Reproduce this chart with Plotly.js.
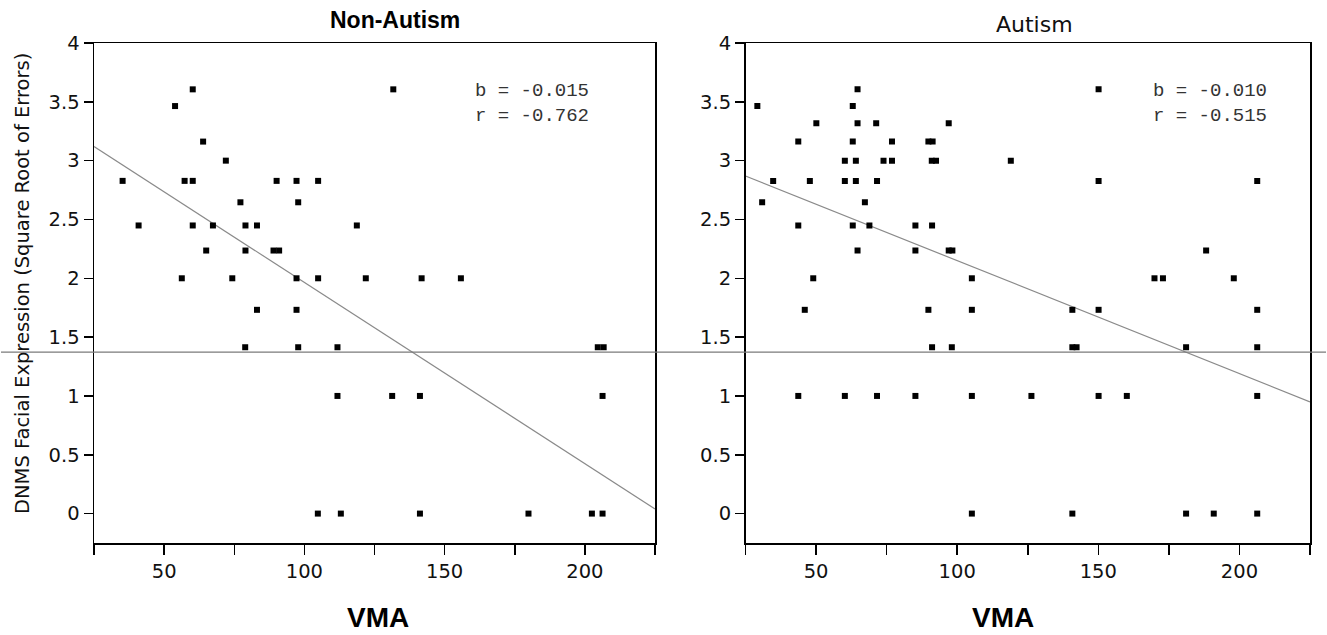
<!DOCTYPE html>
<html>
<head>
<meta charset="utf-8">
<script src="https://cdn.plot.ly/plotly-3.0.1.min.js"></script>
<style>html,body{margin:0;padding:0;background:#fff;}#chart{width:1327px;height:635px;}</style>
</head>
<body>
<div id="chart"></div>
<script>
// ---- Data ----
const nonAutismVMA = [60.2, 131.7, 53.9, 63.9, 72,
  35.2, 57.3, 60.2, 90.1, 97.2, 104.9,
  77.2, 97.8,
  40.9, 60.2, 67.4, 79, 83.1, 118.7,
  65, 79, 89, 91,
  56.3, 74.3, 97.2, 104.9, 121.9, 141.8, 155.8,
  83.1, 97.2,
  78.9, 97.8, 111.8, 204.6, 206.7,
  111.8, 131.3, 141.2, 206.3,
  104.8, 113, 141.2, 179.9, 202.5, 206.3];
const nonAutismDNMS = [3.606, 3.606, 3.464, 3.162, 3.0,
  2.828, 2.828, 2.828, 2.828, 2.828, 2.828,
  2.646, 2.646,
  2.449, 2.449, 2.449, 2.449, 2.449, 2.449,
  2.236, 2.236, 2.236, 2.236,
  2, 2, 2, 2, 2, 2, 2,
  1.732, 1.732,
  1.414, 1.414, 1.414, 1.414, 1.414,
  1, 1, 1, 1,
  0, 0, 0, 0, 0, 0];

const autismVMA = [64.7, 150.1,
  29.2, 63,
  50.1, 64.7, 71.3, 97,
  43.7, 63, 76.9, 89.8, 91.3,
  60.2, 64.1, 73.9, 76.9, 91, 92.5, 119,
  34.8, 47.8, 60.2, 64.1, 71.6, 150.1, 206.3,
  30.9, 67.3,
  43.7, 63, 68.9, 85.2, 91.1,
  64.7, 85.2, 97, 98.3, 188.2,
  49, 105.2, 169.9, 172.9, 198,
  46, 89.8, 105.2, 140.8, 150.1, 206.3,
  91.1, 98.1, 140.8, 142.3, 181.1, 206.3,
  43.7, 60.2, 71.6, 85.2, 105.2, 126.3, 150.1, 160.1, 206.3,
  105.2, 140.8, 181.1, 190.9, 206.3];
const autismDNMS = [3.606, 3.606,
  3.464, 3.464,
  3.317, 3.317, 3.317, 3.317,
  3.162, 3.162, 3.162, 3.162, 3.162,
  3, 3, 3, 3, 3, 3, 3,
  2.828, 2.828, 2.828, 2.828, 2.828, 2.828, 2.828,
  2.646, 2.646,
  2.449, 2.449, 2.449, 2.449, 2.449,
  2.236, 2.236, 2.236, 2.236, 2.236,
  2, 2, 2, 2, 2,
  1.732, 1.732, 1.732, 1.732, 1.732, 1.732,
  1.414, 1.414, 1.414, 1.414, 1.414, 1.414,
  1, 1, 1, 1, 1, 1, 1, 1, 1,
  0, 0, 0, 0, 0];

// regression fit: [intercept, slope]
const nonAutismFit = [3.505, -0.0154];
const autismFit = [3.11, -0.0096];
const fitStatsNon = ["b = -0.015", "r = -0.762"];
const fitStatsAut = ["b = -0.010", "r = -0.515"];
const referenceLevel = 1.373;

const xTickVals = [25, 50, 75, 100, 125, 150, 175, 200, 225];
const xTickText = ["", "50", "", "100", "", "150", "", "200", ""];
const panelTitles = ["Non-Autism", "Autism"];
const xTitle = "VMA";
const yTitle = "DNMS Facial Expression (Square Root of Errors)";

// ---- Build ----
const xRange = [25, 225];
function fitLine(fit) {
  return {x: xRange.slice(), y: xRange.map(v => fit[0] + fit[1] * v)};
}
const fl1 = fitLine(nonAutismFit), fl2 = fitLine(autismFit);
const mk = {symbol: 'square', size: 6, color: '#000'};
const data = [
  {x: fl1.x, y: fl1.y, xaxis: 'x', yaxis: 'y', mode: 'lines', line: {color: '#8a8a8a', width: 1.2}, hoverinfo: 'skip'},
  {x: nonAutismVMA, y: nonAutismDNMS, xaxis: 'x', yaxis: 'y', mode: 'markers', marker: mk},
  {x: fl2.x, y: fl2.y, xaxis: 'x2', yaxis: 'y2', mode: 'lines', line: {color: '#8a8a8a', width: 1.2}, hoverinfo: 'skip'},
  {x: autismVMA, y: autismDNMS, xaxis: 'x2', yaxis: 'y2', mode: 'markers', marker: mk}
];

const L = 94, R = 17, T = 43, B = 92, W = 1327, H = 635;
const pw = W - L - R, ph = H - T - B;
const px2x = p => (p - L) / pw;
const py2y = p => 1 - (p - T) / ph;

const tickFont = {family: 'DejaVu Sans', size: 19.5, color: '#111'};
const xax = (dom) => ({domain: dom, range: xRange, tickvals: xTickVals, ticktext: xTickText,
  ticks: 'outside', ticklen: 10, tickwidth: 1.5, tickcolor: '#000', showline: true, mirror: true,
  linecolor: '#000', linewidth: 1.5, showgrid: false, zeroline: false, tickfont: tickFont, fixedrange: true});
const yax = (anchor) => ({anchor: anchor, range: [-0.25, 4], dtick: 0.5, tick0: 0,
  ticks: 'outside', ticklen: 9, tickwidth: 1.5, tickcolor: '#000', showline: true, mirror: true,
  linecolor: '#000', linewidth: 1.5, showgrid: false, zeroline: false, tickfont: tickFont, fixedrange: true});

const d1 = [0, px2x(655)], d2 = [px2x(745.5), 1];
const monoFont = {family: 'Liberation Mono, Courier New, monospace', size: 19, color: '#333'};
const annotations = [
  {text: panelTitles[0], xref: 'paper', yref: 'paper', x: px2x(394.5), y: py2y(20), showarrow: false,
   xanchor: 'center', yanchor: 'middle', font: {family: 'Liberation Sans, Arial', size: 23, color: '#000', weight: 'bold'}},
  {text: panelTitles[1], xref: 'paper', yref: 'paper', x: px2x(1034), y: py2y(25), showarrow: false,
   xanchor: 'center', yanchor: 'middle', font: {family: 'DejaVu Sans', size: 22, color: '#111'}},
  {text: xTitle, xref: 'paper', yref: 'paper', x: px2x(378), y: py2y(617), showarrow: false,
   xanchor: 'center', yanchor: 'middle', font: {family: 'Liberation Sans, Arial', size: 28, color: '#000', weight: 'bold'}},
  {text: xTitle, xref: 'paper', yref: 'paper', x: px2x(1003), y: py2y(617), showarrow: false,
   xanchor: 'center', yanchor: 'middle', font: {family: 'Liberation Sans, Arial', size: 28, color: '#000', weight: 'bold'}},
  {text: yTitle, xref: 'paper', yref: 'paper', x: px2x(22), y: py2y(284), showarrow: false, textangle: -90,
   xanchor: 'center', yanchor: 'middle', font: {family: 'DejaVu Sans', size: 19.5, color: '#111'}},
  {text: fitStatsNon[0], xref: 'x', yref: 'y', x: 160.1, y: 3.594, showarrow: false, xanchor: 'left', yanchor: 'middle', font: monoFont},
  {text: fitStatsNon[1], xref: 'x', yref: 'y', x: 160.1, y: 3.379, showarrow: false, xanchor: 'left', yanchor: 'middle', font: monoFont},
  {text: fitStatsAut[0], xref: 'x2', yref: 'y2', x: 168.7, y: 3.594, showarrow: false, xanchor: 'left', yanchor: 'middle', font: monoFont},
  {text: fitStatsAut[1], xref: 'x2', yref: 'y2', x: 168.7, y: 3.379, showarrow: false, xanchor: 'left', yanchor: 'middle', font: monoFont}
];

const layout = {
  width: W, height: H,
  margin: {l: L, r: R, t: T, b: B},
  paper_bgcolor: '#fff', plot_bgcolor: '#fff',
  showlegend: false,
  xaxis: xax(d1), yaxis: yax('x'),
  xaxis2: xax(d2), yaxis2: yax('x2'),
  annotations: annotations,
  shapes: [{type: 'line', xref: 'paper', yref: 'y', x0: px2x(1), x1: px2x(1326), y0: referenceLevel, y1: referenceLevel,
    line: {color: '#7a7a7a', width: 1.2}}]
};

Plotly.newPlot('chart', data, layout, {displayModeBar: false, staticPlot: true});
</script>
</body>
</html>
